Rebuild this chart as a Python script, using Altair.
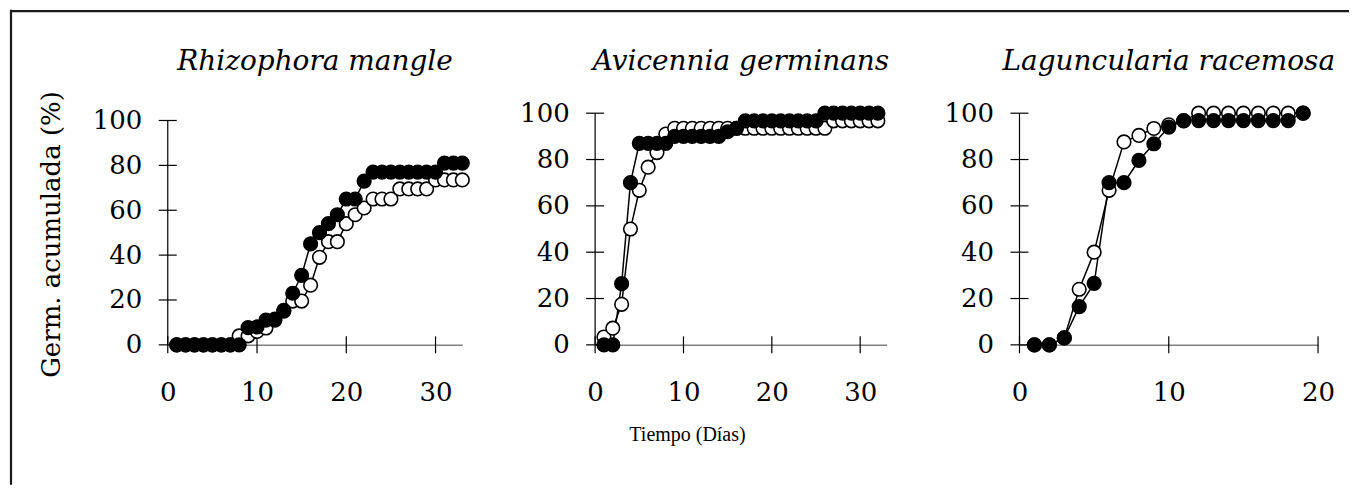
import altair as alt
import pandas as pd

# ---------------- data ----------------
titles = ["Rhizophora mangle", "Avicennia germinans", "Laguncularia racemosa"]
y_title = "Germ. acumulada (%)"
x_title = "Tiempo (Días)"

y_ticks = [0, 20, 40, 60, 80, 100]
x_ticks_long = [0, 10, 20, 30]
x_ticks_short = [0, 10, 20]

# Rhizophora mangle (days 1..33)
rm_days = list(range(1, 34))
rm_filled = [0, 0, 0, 0, 0, 0, 0, 0, 7.7, 8, 11, 11.5, 15.4, 23, 31, 45, 50, 54,
             58, 65, 65, 73, 77, 77, 77, 77, 77, 77, 77, 77, 81, 81, 81]
rm_open = [0, 0, 0, 0, 0, 0, 0, 4, 4, 6, 7.5, 11, 15, 19.5, 19.5, 26.6, 39, 46,
           46, 54, 58, 61, 65, 65, 65, 69.5, 69.5, 69.5, 69.5, 73.5, 73.5, 73.5, 73.5]

# Avicennia germinans (days 1..32)
ag_days = list(range(1, 33))
ag_filled = [0, 0, 26.4, 70, 87, 87, 87, 87, 90, 90, 90, 90, 90, 90, 92, 93.5,
             96.7, 96.7, 96.7, 96.7, 96.7, 96.7, 96.7, 96.7, 96.7, 100, 100, 100,
             100, 100, 100, 100]
ag_open = [3.4, 7.2, 17.5, 50, 66.7, 76.7, 83, 91, 93.5, 93.5, 93.5, 93.5, 93.5,
           93.5, 93.5, 93.5, 93.5, 93.5, 93.5, 93.5, 93.5, 93.5, 93.5, 93.5, 93.5,
           93.5, 96.7, 96.7, 96.7, 96.7, 96.7, 96.7]

# Laguncularia racemosa (days 1..19)
lr_days = list(range(1, 20))
lr_filled = [0, 0, 3, 16.5, 26.5, 70, 70, 79.6, 86.8, 94, 96.8, 96.8, 96.8, 96.8,
             96.8, 96.8, 96.8, 96.8, 100]
lr_open = [0, 0, 3, 24, 40, 66.7, 87.6, 90.4, 93.4, 95, 96.7, 100, 100, 100, 100,
           100, 100, 100, 100]

SERIF = "DejaVu Serif"


def panel(days, filled, opn, title, x_max, x_ticks, y_max, width,
          show_ytitle=False, show_xtitle=False, border=False):
    n = len(days)
    df = pd.DataFrame({
        "d": days + days,
        "v": opn + filled,
        "s": ["open"] * n + ["filled"] * n,
    })
    xs = alt.Scale(domain=[0, x_max], nice=False, zero=False)
    ys = alt.Scale(domain=[0, y_max], nice=False, zero=False)

    x_axis_kw = dict(values=x_ticks, ticks=False, tickSize=0, domain=True,
                     domainColor="#808080", domainWidth=1.5, grid=False,
                     labelFont=SERIF, labelFontSize=26, labelColor="black",
                     labelPadding=35, labelFlush=False)
    if show_xtitle:
        x_axis = alt.Axis(title=x_title, titleFont="Liberation Serif",
                          titleFontSize=20, titleFontWeight="normal",
                          titleColor="black", titleX=92, titleY=90,
                          titleAlign="center", titleBaseline="middle",
                          **x_axis_kw)
    else:
        x_axis = alt.Axis(title=None, **x_axis_kw)

    y_axis_kw = dict(values=y_ticks, ticks=False, tickSize=0, domain=False,
                     grid=False, labelFont=SERIF, labelFontSize=26,
                     labelColor="black", labelPadding=26, labelFlush=False)
    if show_ytitle:
        y_axis = alt.Axis(title=y_title, titleFont=SERIF, titleFontSize=26,
                          titleFontWeight="normal", titleColor="black",
                          titleX=-116, titleY=121, titleBaseline="middle",
                          titleAlign="center", **y_axis_kw)
    else:
        y_axis = alt.Axis(title=None, **y_axis_kw)

    X = alt.X("d:Q", scale=xs, axis=x_axis)
    Y = alt.Y("v:Q", scale=ys, axis=y_axis)

    base = alt.Chart(df)
    lines = base.mark_line(color="black", strokeWidth=1.5).encode(
        x=X, y=Y, detail="s:N")
    open_pts = base.transform_filter(alt.datum.s == "open").mark_point(
        shape="circle", filled=True, fill="white", stroke="black",
        strokeWidth=1.6, size=185, opacity=1).encode(x=X, y=Y)
    filled_pts = base.transform_filter(alt.datum.s == "filled").mark_point(
        shape="circle", filled=True, fill="black", stroke="black",
        strokeWidth=1.6, size=185, opacity=1).encode(x=X, y=Y)

    # axis lines / crossing ticks
    xt = pd.DataFrame({"t": x_ticks})
    yt = pd.DataFrame({"t": y_ticks})
    one = pd.DataFrame({"k": [0]})
    y_line = alt.Chart(one).mark_rule(
        color="black", strokeWidth=1.2).encode(
        x=alt.X("k:Q", scale=xs, axis=x_axis),
        y=alt.datum(0, scale=ys), y2=alt.datum(100))
    x_tk = alt.Chart(xt).mark_tick(orient="vertical", size=17, thickness=1.2,
                                    color="black", opacity=1).encode(
        x=alt.X("t:Q", scale=xs, axis=x_axis), y=alt.datum(0, scale=ys))
    y_tk = alt.Chart(yt).mark_tick(orient="horizontal", size=18, thickness=1.2,
                                    color="black", opacity=1).encode(
        y=alt.Y("t:Q", scale=ys, axis=y_axis), x=alt.datum(0, scale=xs))

    head = alt.Chart(one).mark_text(
        text=title, font=SERIF, fontSize=28, fontStyle="italic",
        fontWeight="normal", color="black", align="center",
        baseline="alphabetic").encode(
        x=alt.value(width / 2), y=alt.value(-43.4))

    layers = [y_line, x_tk, y_tk, lines, open_pts, filled_pts, head]
    if border:
        left_b = alt.Chart(one).mark_rule(color="#1a1a1a", strokeWidth=2.2).encode(
            x=alt.value(-157), y=alt.value(-103.5), y2=alt.value(372))
        top_b = alt.Chart(one).mark_rule(color="#1a1a1a", strokeWidth=2.2).encode(
            x=alt.value(-158), x2=alt.value(1183), y=alt.value(-102.3))
        layers += [left_b, top_b]

    return alt.layer(*layers).properties(width=width, height=232)


p1 = panel(rm_days, rm_filled, rm_open, titles[0], 33, x_ticks_long, 103.25,
           295, show_ytitle=True, border=True)
p2 = panel(ag_days, ag_filled, ag_open, titles[1], 33, x_ticks_long, 100,
           292, show_xtitle=True)
p3 = panel(lr_days, lr_filled, lr_open, titles[2], 20, x_ticks_short, 100, 299)

chart = alt.hconcat(p1, p2, p3, spacing=133, bounds="flush").properties(
    padding=0, background="white"
).configure_view(strokeWidth=0).resolve_scale(x="independent", y="independent")

chart.save("out.html", embed_options={"renderer": "svg", "actions": False})
